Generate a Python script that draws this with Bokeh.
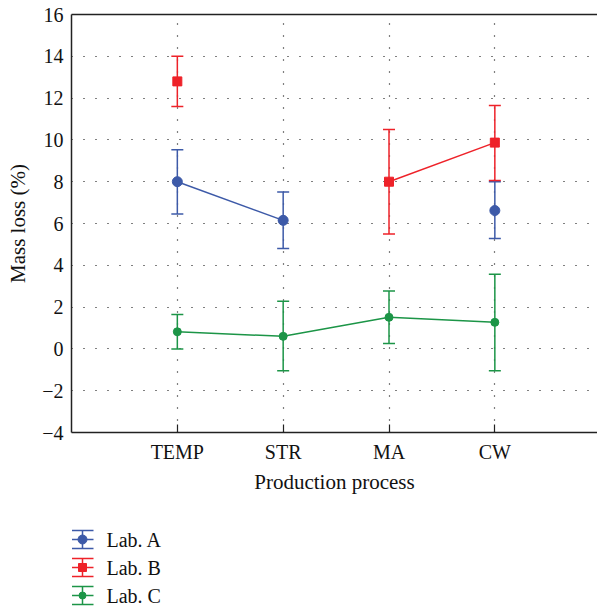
import math
from bokeh.plotting import figure
from bokeh.models import (ColumnDataSource, Whisker, TeeHead, FixedTicker,
                          LinearAxis, Range1d)
from bokeh.layouts import column
from bokeh.core.properties import value
from bokeh.embed import file_html
from bokeh.resources import INLINE

nan = float("nan")

# ---- data ----
categories = ["TEMP", "STR", "MA", "CW"]
y_ticks = [-4, -2, 0, 2, 4, 6, 8, 10, 12, 14, 16]

lab_a_mean = [8.0, 6.15, nan, 6.62]
lab_a_lower = [6.45, 4.8, nan, 5.28]
lab_a_upper = [9.53, 7.51, nan, 8.0]

lab_b_mean = [12.8, nan, 8.0, 9.87]
lab_b_lower = [11.6, nan, 5.5, 8.06]
lab_b_upper = [14.0, nan, 10.5, 11.65]

lab_c_mean = [0.82, 0.6, 1.51, 1.27]
lab_c_lower = [0.0, -1.04, 0.26, -1.04]
lab_c_upper = [1.64, 2.28, 2.77, 3.57]

labels = ["Lab. A", "Lab. B", "Lab. C"]

# ---- styles ----
FONT = "'Liberation Serif', 'DejaVu Serif', serif"
BLUE = "#3d5aa8"
RED = "#ee2229"
GREEN = "#1c9547"
AXIS = "#222222"

xpos = [i + 1 for i in range(len(categories))]

p = figure(width=597, height=500, output_backend="svg", toolbar_location=None,
           x_range=Range1d(0, 4.97), y_range=Range1d(-4, 16),
           min_border_left=71, min_border_right=0, min_border_top=14,
           min_border_bottom=68)
p.outline_line_color = None
p.background_fill_color = "white"
p.border_fill_color = "white"

# axes
p.xaxis.ticker = FixedTicker(ticks=xpos)
p.xaxis.major_label_overrides = {x: c for x, c in zip(xpos, categories)}
p.xaxis.major_tick_in = 8
p.xaxis.major_tick_out = 0
p.xaxis.minor_tick_line_color = None
p.xaxis.axis_label = "Production process"
p.yaxis.ticker = FixedTicker(ticks=y_ticks)
p.yaxis.major_label_overrides = {t: ("\u2212" + str(-t) if t < 0 else str(t)) for t in y_ticks}
p.yaxis.major_tick_in = 0
p.yaxis.major_tick_out = 0
p.yaxis.minor_tick_line_color = None
p.yaxis.axis_label = "Mass loss (%)"
for ax in (p.xaxis[0], p.yaxis[0]):
    ax.axis_line_color = AXIS
    ax.axis_line_width = 1.5
    ax.major_tick_line_color = AXIS
    ax.major_tick_line_width = 1.2
    ax.major_label_text_font = FONT
    ax.major_label_text_font_size = "20px"
    ax.major_label_text_color = "#111111"
    ax.axis_label_text_font = FONT
    ax.axis_label_text_font_size = "21px"
    ax.axis_label_text_font_style = "normal"
    ax.axis_label_text_color = "#111111"
    ax.major_label_standoff = 8
p.xaxis.axis_label_standoff = 4
p.yaxis.axis_label_standoff = 9

top = LinearAxis(ticker=FixedTicker(ticks=[]), major_label_text_font_size="0px",
                 major_tick_in=0, major_tick_out=0, minor_tick_in=0, minor_tick_out=0,
                 axis_line_color=AXIS, axis_line_width=1.5)
p.add_layout(top, "above")

# grid (dotted)
p.xgrid.ticker = FixedTicker(ticks=xpos)
p.ygrid.ticker = FixedTicker(ticks=y_ticks)
for g in (p.xgrid[0], p.ygrid[0]):
    g.grid_line_color = "black"
    g.grid_line_dash = "1 11"
    g.grid_line_width = 1.2

series = [
    (lab_a_mean, lab_a_lower, lab_a_upper, BLUE, "circle", 10),
    (lab_b_mean, lab_b_lower, lab_b_upper, RED, "square", 9),
    (lab_c_mean, lab_c_lower, lab_c_upper, GREEN, "circle", 8),
]

for mean, lo, hi, col, mk, sz in series:
    p.line(xpos, mean, line_color=col, line_width=1.5)
    keep = [i for i in range(len(mean)) if not math.isnan(mean[i])]
    src = ColumnDataSource(dict(x=[xpos[i] for i in keep],
                                m=[mean[i] for i in keep],
                                lo=[lo[i] for i in keep],
                                hi=[hi[i] for i in keep]))
    w = Whisker(source=src, base="x", lower="lo", upper="hi", dimension="height",
                line_color=col, line_width=1.5,
                upper_head=TeeHead(size=12, line_color=col, line_width=1.5),
                lower_head=TeeHead(size=12, line_color=col, line_width=1.5))
    p.add_layout(w)
    p.scatter("x", "m", source=src, marker=mk, size=sz, fill_color=col,
              line_color=col, line_width=1)

# ---- legend panel (below the chart); its frame is aligned with the chart frame (x 71..597) ----
lg = figure(width=597, height=110, output_backend="svg", toolbar_location=None,
            x_range=Range1d(71, 597), y_range=Range1d(110, 0),
            min_border=0, min_border_left=71, min_border_right=0,
            min_border_top=0, min_border_bottom=0)
lg.axis.visible = False
lg.grid.visible = False
lg.outline_line_color = None

row_y = [39, 67, 95]
gx0, gx1, gxm, half = 71.5, 93, 82, 9
for (mean, lo, hi, col, mk, sz), ry, lab in zip(series, row_y, labels):
    lg.segment(x0=[gx0, gx0, gx0, gxm], y0=[ry - half, ry, ry + half, ry - half],
               x1=[gx1, gx1, gx1, gxm], y1=[ry - half, ry, ry + half, ry + half],
               line_color=col, line_width=1.5)
    lg.scatter([gxm], [ry], marker=mk, size=sz - 1, fill_color=col, line_color=col)
    lg.text([106], [ry], text=[lab], text_font=value(FONT), text_font_size="20px",
            text_baseline="middle", text_color="#111111")

layout = column(p, lg, spacing=0)
open("out.html", "w").write(file_html(layout, INLINE))
